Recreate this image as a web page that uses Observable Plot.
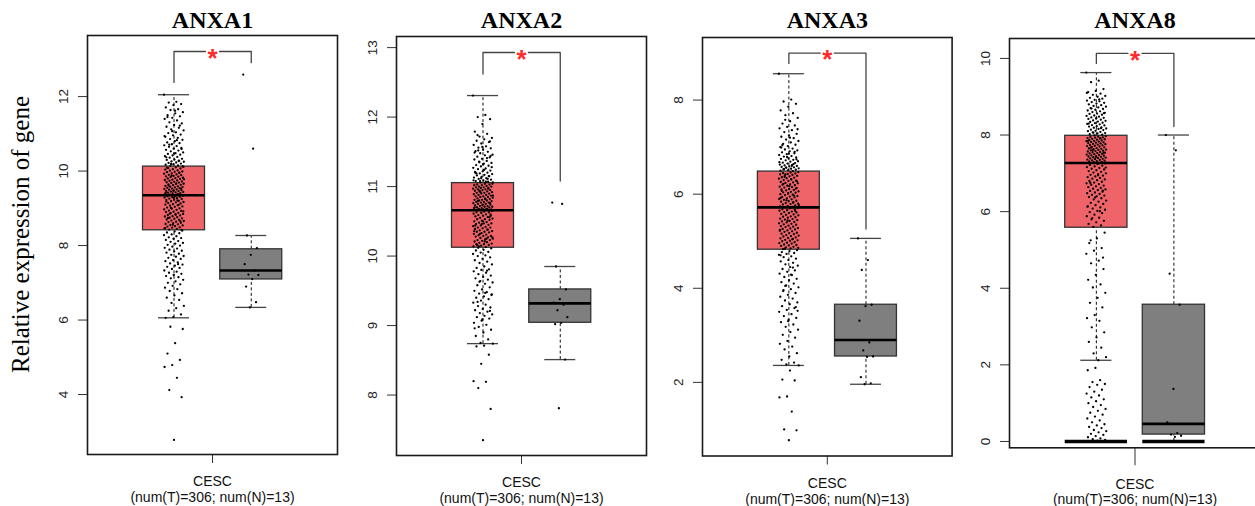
<!DOCTYPE html>
<html><head><meta charset="utf-8">
<script src="https://cdn.jsdelivr.net/npm/d3@7"></script>
<script src="https://cdn.jsdelivr.net/npm/@observablehq/plot@0.6"></script>
<style>
html,body{margin:0;padding:0;background:#fff;overflow:hidden;width:1255px;height:506px}
#wrap{position:relative;width:1255px;height:506px;overflow:hidden;background:#fff}
.panel{position:absolute;top:0}
.panel svg{max-width:none !important;display:block}
</style></head><body><div id="wrap"></div>
<script>
// ---------- data ----------
const genes = ["ANXA1", "ANXA2", "ANXA3", "ANXA8"];
const category = "CESC";
const caption = "(num(T)=306; num(N)=13)";
const yLabel = "Relative expression of gene";
const yTicks = [[4, 6, 8, 10, 12], [8, 9, 10, 11, 12, 13], [2, 4, 6, 8], [0, 2, 4, 6, 8, 10]];

const tumorQ1 = [8.41, 10.12, 4.82, 5.58];
const tumorMedian = [9.35, 10.66, 5.72, 7.27];
const tumorQ3 = [10.12, 11.05, 6.48, 7.98];
const tumorWhiskerLow = [6.06, 8.74, 2.36, 2.12];
const tumorWhiskerHigh = [12.05, 12.31, 8.56, 9.63];

const normalQ1 = [7.09, 9.04, 2.55, 0.18];
const normalMedian = [7.33, 9.32, 2.90, 0.46];
const normalQ3 = [7.90, 9.52, 3.65, 3.57];
const normalWhiskerLow = [6.34, 8.51, 1.96, 0];
const normalWhiskerHigh = [8.27, 9.85, 5.06, 8.0];

const bracketTop = [13.21, 12.93, 9.0, 10.13];
const bracketTumorEnd = [12.38, 12.62, 8.78, 9.87];
const bracketNormalEnd = [12.91, 11.08, 5.26, 8.22];
const significance = ["*", "*", "*", "*"];

const tumorANXA1 = [
12.05,11.86,11.84,11.8,11.77,11.71,11.66,11.64,11.58,11.55,11.5,11.47,11.43,11.4,11.36,11.31,11.28,11.24,11.19,11.16,
11.12,11.09,11.04,11.02,10.98,10.96,10.92,10.89,10.86,10.84,10.8,10.77,10.75,10.72,10.69,10.67,10.65,10.62,10.6,10.57,
10.55,10.53,10.5,10.48,10.46,10.44,10.42,10.4,10.38,10.36,10.33,10.31,10.3,10.28,10.26,10.25,10.23,10.22,10.2,10.18,
10.17,10.15,10.14,10.13,11.62,11.45,11.22,11.07,10.94,10.83,10.71,10.59,10.47,10.37,10.27,10.19,
10.11,10.1,10.08,10.07,10.05,10.04,10.02,10.01,9.99,9.98,9.97,9.95,9.94,9.93,9.91,9.9,9.89,9.87,9.86,9.85,
9.84,9.82,9.81,9.8,9.79,9.77,9.76,9.75,9.74,9.72,9.71,9.7,9.69,9.68,9.66,9.65,9.64,9.63,9.62,9.6,
9.59,9.58,9.57,9.56,9.55,9.54,9.53,9.52,9.51,9.5,9.49,9.48,9.47,9.46,9.45,9.44,9.43,9.42,9.41,9.4,
9.39,9.38,9.37,9.36,9.35,10.09,9.96,9.88,9.78,9.67,9.61,9.53,9.47,9.42,9.38,9.36,
9.34,9.33,9.32,9.31,9.3,9.29,9.27,9.26,9.25,9.23,9.22,9.2,9.19,9.17,9.16,9.14,9.13,9.11,9.1,9.08,
9.07,9.05,9.04,9.02,9.0,8.99,8.97,8.96,8.94,8.93,8.91,8.9,8.88,8.87,8.85,8.84,8.82,8.81,8.79,8.78,
8.76,8.75,8.73,8.72,8.7,8.69,8.67,8.66,8.64,8.63,8.61,8.6,8.58,8.57,8.55,8.54,8.52,8.51,8.49,8.48,
8.46,8.45,8.43,8.42,9.28,9.18,9.09,9.01,8.92,8.83,8.74,8.65,8.56,8.47,9.21,8.86,
8.4,8.38,8.35,8.33,8.3,8.28,8.25,8.22,8.2,8.18,8.15,8.12,8.1,8.07,8.05,8.02,8.0,7.97,7.94,7.92,
7.89,7.86,7.84,7.81,7.78,7.75,7.72,7.7,7.67,7.64,7.61,7.58,7.55,7.52,7.49,7.46,7.43,7.4,7.37,7.33,
7.3,7.27,7.24,7.21,7.18,7.15,7.12,7.08,7.04,7.0,6.96,6.92,6.87,6.83,6.78,6.72,6.66,6.6,6.54,6.46,
6.38,6.32,6.25,6.15,6.08,6.06,7.5,
5.82,5.76,5.38,5.1,4.93,4.79,4.74,4.45,4.12,3.93,2.78
];
const tumorANXA2 = [
12.31,12.03,12.0,11.97,11.9,11.79,11.76,11.72,11.7,11.68,11.66,11.64,11.62,11.6,11.58,11.56,11.55,11.53,11.51,11.5,
11.48,11.46,11.45,11.43,11.42,11.4,11.39,11.37,11.36,11.34,11.33,11.31,11.3,11.29,11.27,11.26,11.25,11.23,11.22,11.21,
11.2,11.19,11.18,11.17,11.16,11.15,11.14,11.13,11.12,11.11,11.1,11.09,11.08,11.07,11.06,11.06,11.05,11.74,11.65,11.57,
11.49,11.41,11.35,11.28,11.24,11.19,11.15,11.12,11.09,11.07,11.52,11.44,11.32,11.2,11.11,11.08,
11.04,11.04,11.03,11.03,11.02,11.02,11.01,11.0,11.0,10.99,10.99,10.98,10.98,10.97,10.96,10.96,10.95,10.95,10.94,10.93,
10.93,10.92,10.91,10.91,10.9,10.9,10.89,10.88,10.88,10.87,10.86,10.86,10.85,10.85,10.84,10.83,10.83,10.82,10.81,10.81,
10.8,10.8,10.79,10.78,10.78,10.77,10.77,10.76,10.75,10.75,10.74,10.74,10.73,10.72,10.72,10.71,10.71,10.7,10.7,10.69,
10.69,10.68,10.68,10.67,10.67,10.66,10.97,10.92,10.87,10.82,10.79,10.76,10.73,10.7,10.68,10.94,
10.65,10.64,10.63,10.63,10.62,10.61,10.6,10.59,10.58,10.58,10.57,10.56,10.55,10.54,10.53,10.53,10.52,10.51,10.5,10.49,
10.48,10.47,10.47,10.46,10.45,10.44,10.43,10.42,10.41,10.41,10.4,10.39,10.38,10.37,10.36,10.35,10.35,10.34,10.33,10.32,
10.31,10.3,10.29,10.29,10.28,10.27,10.26,10.25,10.24,10.23,10.23,10.22,10.21,10.2,10.19,10.18,10.17,10.17,10.16,10.15,
10.14,10.13,10.12,10.6,10.5,10.44,10.38,10.32,10.27,10.21,10.16,10.56,10.46,10.36,10.25,10.14,
10.11,10.09,10.08,10.06,10.05,10.03,10.01,10.0,9.98,9.96,9.94,9.92,9.9,9.88,9.85,9.83,9.81,9.8,9.78,9.76,
9.74,9.72,9.7,9.68,9.66,9.64,9.62,9.6,9.58,9.55,9.52,9.5,9.48,9.46,9.44,9.42,9.4,9.38,9.36,9.33,
9.3,9.28,9.26,9.24,9.22,9.2,9.18,9.16,9.14,9.12,9.1,9.07,9.04,9.01,8.98,8.94,8.9,8.85,8.8,8.75,
8.74,9.47,9.34,9.21,9.09,8.96,9.79,9.63,9.45,
8.71,8.7,8.58,8.45,8.2,8.19,8.1,7.8,7.35
];
const tumorANXA3 = [
8.56,8.01,7.97,7.92,7.86,7.78,7.72,7.68,7.62,7.55,7.5,7.46,7.43,7.4,7.36,7.32,7.28,7.25,7.22,7.19,
7.16,7.13,7.1,7.07,7.05,7.02,7.0,6.97,6.95,6.93,6.91,6.89,6.87,6.85,6.83,6.81,6.8,6.78,6.76,6.75,
6.73,6.72,6.7,6.69,6.67,6.66,6.65,6.63,6.62,6.61,6.6,6.59,6.58,6.57,6.56,6.55,6.54,6.53,6.52,6.51,
6.5,6.49,7.58,7.38,7.2,7.04,6.9,6.79,6.68,6.6,6.53,6.74,6.86,6.99,6.64,6.57,
6.47,6.46,6.45,6.44,6.43,6.42,6.41,6.4,6.39,6.38,6.36,6.35,6.34,6.33,6.31,6.3,6.29,6.28,6.26,6.25,
6.24,6.23,6.21,6.2,6.19,6.18,6.16,6.15,6.14,6.13,6.11,6.1,6.09,6.08,6.06,6.05,6.04,6.03,6.01,6.0,
5.99,5.98,5.96,5.95,5.94,5.93,5.91,5.9,5.89,5.88,5.86,5.85,5.84,5.83,5.81,5.8,5.79,5.78,5.76,5.75,
5.74,5.73,6.37,6.27,6.17,6.07,5.97,5.87,5.77,6.32,6.22,6.12,6.02,5.92,5.82,6.42,
5.71,5.7,5.68,5.67,5.66,5.65,5.63,5.62,5.61,5.6,5.58,5.57,5.56,5.55,5.53,5.52,5.51,5.5,5.48,5.47,
5.46,5.45,5.43,5.42,5.41,5.4,5.38,5.37,5.36,5.35,5.33,5.32,5.31,5.3,5.28,5.27,5.26,5.25,5.23,5.22,
5.21,5.2,5.18,5.17,5.16,5.15,5.13,5.12,5.11,5.1,5.08,5.07,5.06,5.05,5.03,5.02,5.01,5.0,4.98,4.97,
4.96,4.95,4.93,4.92,4.91,4.9,4.88,4.87,4.86,4.85,4.83,5.64,5.44,5.24,5.04,4.84,
4.81,4.79,4.77,4.75,4.73,4.71,4.68,4.66,4.63,4.6,4.57,4.54,4.51,4.48,4.45,4.41,4.38,4.35,4.31,4.28,
4.24,4.2,4.17,4.13,4.1,4.06,4.02,3.98,3.94,3.9,3.86,3.82,3.78,3.74,3.7,3.66,3.62,3.58,3.54,3.5,
3.45,3.41,3.37,3.33,3.28,3.23,3.18,3.12,3.07,3.01,2.95,2.88,2.82,2.76,2.7,2.62,2.55,2.48,2.42,2.38,
2.36,4.29,3.96,3.6,3.3,4.7,4.44,4.05,3.52,
2.25,2.06,2.04,1.7,1.68,1.38,1.0,0.98,0.77
];
const tumorANXA8 = [
9.63,9.42,9.38,9.2,9.15,9.12,9.08,9.05,9.02,9.0,8.97,8.95,8.92,8.9,8.88,8.86,8.84,8.82,8.8,8.78,
8.76,8.74,8.72,8.7,8.68,8.66,8.64,8.62,8.6,8.58,8.56,8.55,8.53,8.51,8.5,8.48,8.46,8.45,8.43,8.42,
8.4,8.38,8.37,8.35,8.34,8.32,8.31,8.29,8.28,8.26,8.25,8.23,8.22,8.2,8.19,8.17,8.16,8.14,8.13,8.11,
8.1,8.08,8.07,8.05,8.04,8.02,8.01,7.99,9.1,8.93,8.69,8.57,8.44,8.3,8.18,8.06,
7.97,7.96,7.95,7.94,7.93,7.92,7.91,7.9,7.89,7.88,7.87,7.86,7.85,7.84,7.83,7.82,7.81,7.8,7.79,7.78,
7.77,7.76,7.75,7.74,7.73,7.72,7.71,7.7,7.69,7.68,7.66,7.65,7.64,7.63,7.62,7.61,7.6,7.59,7.58,7.57,
7.56,7.55,7.54,7.53,7.52,7.51,7.5,7.49,7.48,7.47,7.46,7.45,7.44,7.43,7.42,7.41,7.4,7.39,7.38,7.37,
7.36,7.35,7.34,7.33,7.32,7.31,7.3,7.29,7.28,7.27,7.67,7.53,7.42,7.85,7.92,7.61,
7.26,7.24,7.22,7.2,7.18,7.16,7.14,7.12,7.1,7.08,7.06,7.04,7.02,7.0,6.98,6.96,6.94,6.92,6.9,6.88,
6.86,6.84,6.82,6.8,6.78,6.76,6.74,6.72,6.7,6.68,6.66,6.64,6.62,6.6,6.58,6.56,6.54,6.52,6.5,6.48,
6.46,6.44,6.42,6.4,6.38,6.35,6.32,6.29,6.26,6.23,6.2,6.17,6.14,6.11,6.08,6.05,6.02,5.99,5.96,5.92,
5.88,5.84,5.8,5.76,5.72,5.68,5.64,5.6,7.15,6.95,6.75,6.55,6.37,6.13,6.01,5.83,
5.45,5.3,5.18,5.05,4.98,4.9,4.72,4.65,4.5,4.35,4.22,4.1,4.02,3.88,3.75,3.62,3.5,3.3,3.22,3.15,
2.98,2.85,2.72,2.6,2.45,2.3,2.2,2.12,5.25,4.8,
1.92,1.86,1.6,1.55,1.5,1.48,1.42,1.35,1.3,1.25,1.2,1.15,1.1,1.05,1.0,0.95,0.9,0.85,0.8,0.75,
0.7,0.65,0.6,0.55,0.5,0.45,0.42,0.38,0.35,0.3,0.27,0.24,0.2,0.17,0.14,0.11,0.08,0.06,0.04,0.02,
0,0,0,0,0,0,0,0
];
const normalANXA1 = [12.59, 10.6, 8.27, 7.93, 7.75, 7.5, 7.33, 7.22, 7.21, 7.1, 6.9, 6.48, 6.34];
const normalANXA2 = [10.77, 10.75, 9.85, 9.52, 9.38, 9.33, 9.3, 9.22, 9.12, 9.04, 9.02, 8.51, 7.81];
const normalANXA3 = [5.06, 4.6, 4.39, 3.65, 3.62, 3.31, 2.85, 2.68, 2.55, 2.54, 2.11, 1.98, 1.96];
const normalANXA8 = [8.0, 7.6, 4.38, 3.57, 1.37, 0.5, 0.22, 0.18, 0.15, 0.12, 0, 0, 0];

const tumorValues = [tumorANXA1, tumorANXA2, tumorANXA3, tumorANXA8];
const normalValues = [normalANXA1, normalANXA2, normalANXA3, normalANXA8];

// ---------- layout ----------
const layout = [
  {left: 0,   width: 340, mL: 87, mR: 3,   mT: 35, mB: 52, yDomain: [2.39, 13.64], xTick: 9},
  {left: 340, width: 310, mL: 56, mR: 4,   mT: 36, mB: 51, yDomain: [7.13, 13.16], xTick: 9},
  {left: 650, width: 305, mL: 52, mR: 3.4, mT: 37, mB: 50.5, yDomain: [0.435, 9.33], xTick: 9},
  {left: 955, width: 306, mL: 54, mR: 1,   mT: 38, mB: 58.7, yDomain: [-0.165, 10.52], xTick: 18}
];
const TX = -0.308, NX = 0.31, BOXW = 0.248, CAPW = 0.124, GAP = 0.056;
const JIT_T = 0.08, JIT_N = 0.064;
const tumorFill = "#EF6468", normalFill = "#7F7F7F";
const sans = "'Liberation Sans', Arial, Helvetica, sans-serif";
const serif = "'Liberation Serif', 'Times New Roman', Times, serif";
const jitter = j => ((j * 0.6180339887) % 1) - 0.5;

const wrap = document.getElementById("wrap");

genes.forEach((gene, i) => {
  const L = layout[i];
  const groups = [
    {x: TX, q1: tumorQ1[i], med: tumorMedian[i], q3: tumorQ3[i], lo: tumorWhiskerLow[i], hi: tumorWhiskerHigh[i], fill: tumorFill, values: tumorValues[i], jit: JIT_T},
    {x: NX, q1: normalQ1[i], med: normalMedian[i], q3: normalQ3[i], lo: normalWhiskerLow[i], hi: normalWhiskerHigh[i], fill: normalFill, values: normalValues[i], jit: JIT_N}
  ];
  const whiskers = groups.flatMap(g => [{x: g.x, y1: g.q3, y2: g.hi}, {x: g.x, y1: g.lo, y2: g.q1}]);
  const caps = groups.flatMap(g => [{x: g.x, y: g.hi}, {x: g.x, y: g.lo}]);
  const pts = groups.flatMap(g => g.values.map((v, j) => ({x: g.x + jitter(j) * 2 * g.jit, y: v})));
  const zeros = groups.filter(g => g.values.includes(0));
  const bracket = [
    {s: 0, x: TX, y: bracketTumorEnd[i]}, {s: 0, x: TX, y: bracketTop[i]}, {s: 0, x: -GAP, y: bracketTop[i]},
    {s: 1, x: GAP, y: bracketTop[i]}, {s: 1, x: NX, y: bracketTop[i]}, {s: 1, x: NX, y: bracketNormalEnd[i]}
  ];

  const marks = [
    Plot.ruleX(whiskers, {x: "x", y1: "y1", y2: "y2", stroke: "#111", strokeWidth: 1, strokeDasharray: "3,2.5"}),
    Plot.ruleY(caps, {y: "y", x1: d => d.x - CAPW, x2: d => d.x + CAPW, stroke: "#444", strokeWidth: 1.3}),
    Plot.rect(groups, {x1: d => d.x - BOXW, x2: d => d.x + BOXW, y1: "q1", y2: "q3", fill: "fill", stroke: "#333", strokeWidth: 1.3}),
    Plot.ruleY(groups, {y: "med", x1: d => d.x - BOXW, x2: d => d.x + BOXW, stroke: "#000", strokeWidth: 2.6}),
    Plot.dot(pts, {x: "x", y: "y", r: 1.15, fill: "#000", stroke: null}),
    Plot.ruleY(zeros, {y: 0, x1: d => d.x - BOXW, x2: d => d.x + BOXW, stroke: "#000", strokeWidth: 3.5}),
    Plot.line(bracket, {x: "x", y: "y", z: "s", stroke: "#444", strokeWidth: 1.3, curve: "linear"}),
    Plot.text([significance[i]], {x: 0, y: bracketTop[i], text: d => d, fill: "#FF2B2B", fontSize: 26, fontWeight: "bold", fontFamily: sans, textAnchor: "middle", lineAnchor: "middle", dy: 7}),
    Plot.axisY({ticks: yTicks[i], tickFormat: d => String(d), label: null, tickSize: 9, tickRotate: -90, tickPadding: 10.5, fontSize: 13.5, fontFamily: sans, stroke: "#333", fill: "#222"}),
    Plot.axisX({ticks: [0], tickFormat: () => category + "\n" + caption, label: null, tickSize: L.xTick, tickPadding: 11.5, fontSize: 14, lineHeight: 1.13, fontFamily: sans, stroke: "#333", fill: "#111"}),
    Plot.frame({stroke: "#1a1a1a", strokeWidth: 1.6}),
    Plot.text([gene], {frameAnchor: "top", dy: 27 - L.mT, lineAnchor: "bottom", textAnchor: "middle", text: d => d, fontSize: 24, fontWeight: "bold", fontFamily: serif, fill: "#000"})
  ];
  if (i === 0) {
    marks.push(Plot.text([yLabel], {frameAnchor: "left", dx: -59, dy: -10.5, rotate: -90, lineAnchor: "bottom", textAnchor: "middle", text: d => d, fontSize: 25, fontFamily: serif, fill: "#000"}));
  }

  const chart = Plot.plot({
    width: L.width,
    height: 506,
    marginLeft: L.mL,
    marginRight: L.mR,
    marginTop: L.mT,
    marginBottom: L.mB,
    x: {domain: [-1, 1], label: null},
    y: {domain: L.yDomain, label: null},
    style: {fontFamily: sans, background: "transparent", overflow: "visible", maxWidth: "none"},
    marks
  });
  const div = document.createElement("div");
  div.className = "panel";
  div.style.left = L.left + "px";
  div.style.width = L.width + "px";
  div.appendChild(chart);
  wrap.appendChild(div);
});
</script></body></html>
